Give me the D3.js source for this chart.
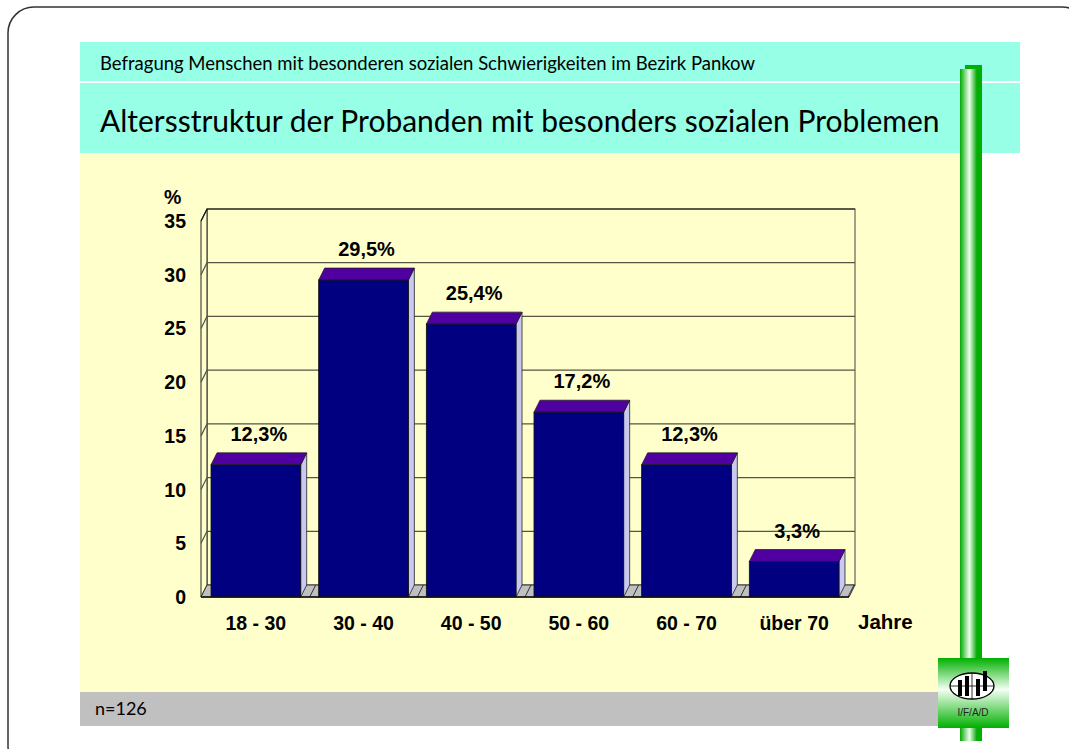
<!DOCTYPE html>
<html>
<head>
<meta charset="utf-8">
<script src="https://cdn.jsdelivr.net/npm/d3@7"></script>
<style>
  body { margin: 0; background: #fff; }
  svg { display: block; }
</style>
</head>
<body>
<div id="chart"></div>
<script>
// data
var categories = ['18 - 30', '30 - 40', '40 - 50', '50 - 60', '60 - 70', 'über 70'];
var values = [12.3, 29.5, 25.4, 17.2, 12.3, 3.3];
var valueLabels = ['12,3%', '29,5%', '25,4%', '17,2%', '12,3%', '3,3%'];
var yTicks = [0, 5, 10, 15, 20, 25, 30, 35];

var W = 1069, H = 749;
var svg = d3.select('#chart').append('svg')
  .attr('width', W)
  .attr('height', H);

var defs = svg.append('defs');
var cyl = defs.append('linearGradient').attr('id', 'cyl')
  .attr('x1', '0').attr('x2', '1').attr('y1', '0').attr('y2', '0');
cyl.append('stop').attr('offset', '0%').attr('stop-color', '#00a800');
cyl.append('stop').attr('offset', '55%').attr('stop-color', '#f0fff0');
cyl.append('stop').attr('offset', '100%').attr('stop-color', '#00a800');
var logoGrad = defs.append('linearGradient').attr('id', 'logoGrad')
  .attr('x1', '0').attr('x2', '0').attr('y1', '0').attr('y2', '1');
logoGrad.append('stop').attr('offset', '0%').attr('stop-color', '#00b000');
logoGrad.append('stop').attr('offset', '45%').attr('stop-color', '#f4fff4');
logoGrad.append('stop').attr('offset', '100%').attr('stop-color', '#00b000');

// outer rounded frame
svg.append('rect')
  .attr('x', 8).attr('y', 7)
  .attr('width', 1080).attr('height', 765)
  .attr('rx', 26).attr('ry', 26)
  .attr('fill', 'none')
  .attr('stroke', '#333')
  .attr('stroke-width', 1.5);

// slide bands
svg.append('rect').attr('x', 80).attr('y', 42).attr('width', 940).attr('height', 39).attr('fill', '#96ffe6');
svg.append('rect').attr('x', 80).attr('y', 83).attr('width', 940).attr('height', 70).attr('fill', '#96ffe6');
svg.append('rect').attr('x', 80).attr('y', 153).attr('width', 880).attr('height', 539).attr('fill', '#ffffcc');
svg.append('rect').attr('x', 80).attr('y', 692).attr('width', 880).attr('height', 34).attr('fill', '#c0c0c0');

svg.append('text')
  .attr('x', 100).attr('y', 70)
  .style('font-family', 'Lato, sans-serif')
  .style('font-size', '18.5px')
  .text('Befragung Menschen mit besonderen sozialen Schwierigkeiten im Bezirk Pankow');

svg.append('text')
  .attr('x', 100).attr('y', 132)
  .style('font-family', 'Lato, sans-serif')
  .style('font-size', '30px')
  .text('Altersstruktur der Probanden mit besonders sozialen Problemen');

svg.append('text')
  .attr('x', 95).attr('y', 715)
  .style('font-family', 'Lato, sans-serif')
  .style('font-size', '18px')
  .text('n=126');

// chart geometry
var dx = 6, dy = -12;
var x = d3.scaleBand()
  .domain(categories)
  .range([201, 849])
  .paddingInner(0.167)
  .paddingOuter(0.093);
var y = d3.scaleLinear().domain([0, 35]).range([597, 221]);

var g = svg.append('g');
var x0 = 201, x1 = 849;

// back wall + left wall
g.append('rect')
  .attr('x', x0 + dx).attr('y', y(35) + dy)
  .attr('width', x1 - x0).attr('height', y(0) - y(35))
  .attr('fill', '#ffffcc').attr('stroke', '#444').attr('stroke-width', 1);
g.append('path')
  .attr('d', 'M' + x0 + ',' + y(0) + 'L' + x0 + ',' + y(35) + 'L' + (x0 + dx) + ',' + (y(35) + dy) + 'L' + (x0 + dx) + ',' + (y(0) + dy) + 'Z')
  .attr('fill', '#ffffcc').attr('stroke', '#222').attr('stroke-width', 1);

// gridlines (back wall + left wall diagonal)
g.selectAll('.grid').data(yTicks.filter(function (t) { return t > 0; }))
  .enter().append('path')
  .attr('class', 'grid')
  .attr('d', function (t) {
    return 'M' + x0 + ',' + y(t) + 'L' + (x0 + dx) + ',' + (y(t) + dy) + 'L' + (x1 + dx) + ',' + (y(t) + dy);
  })
  .attr('fill', 'none')
  .attr('stroke', function (t) { return t === 35 ? '#111' : '#555544'; })
  .attr('stroke-width', 1.2);

// floor
g.append('path')
  .attr('d', 'M' + x0 + ',' + y(0) + 'L' + (x0 + dx) + ',' + (y(0) + dy) + 'L' + (x1 + dx) + ',' + (y(0) + dy) + 'L' + x1 + ',' + y(0) + 'Z')
  .attr('fill', '#c0c0c0').attr('stroke', '#333').attr('stroke-width', 1);
// floor slot separators
g.selectAll('.sep').data(categories)
  .enter().append('path')
  .attr('d', function (c) {
    var xx = x(c) + x.bandwidth() + (x.step() - x.bandwidth()) / 2;
    return 'M' + (xx) + ',' + y(0) + 'L' + (xx + dx) + ',' + (y(0) + dy);
  })
  .attr('stroke', '#333').attr('stroke-width', 1);

// bars
var bars = g.selectAll('.bar').data(values).enter().append('g').attr('class', 'bar');
bars.append('path')
  .attr('d', function (v, i) {
    var bx = x(categories[i]) + x.bandwidth(), top = y(v), bot = y(0);
    return 'M' + bx + ',' + bot + 'L' + bx + ',' + top + 'L' + (bx + dx) + ',' + (top + dy) + 'L' + (bx + dx) + ',' + (bot + dy) + 'Z';
  })
  .attr('fill', '#c8c8f0').attr('stroke', '#222').attr('stroke-width', 0.8);
bars.append('path')
  .attr('d', function (v, i) {
    var bx = x(categories[i]), bw = x.bandwidth(), top = y(v);
    return 'M' + bx + ',' + top + 'L' + (bx + dx) + ',' + (top + dy) + 'L' + (bx + bw + dx) + ',' + (top + dy) + 'L' + (bx + bw) + ',' + top + 'Z';
  })
  .attr('fill', '#5000a0').attr('stroke', '#222').attr('stroke-width', 0.8);
bars.append('rect')
  .attr('x', function (v, i) { return x(categories[i]); })
  .attr('y', function (v) { return y(v); })
  .attr('width', x.bandwidth())
  .attr('height', function (v) { return y(0) - y(v); })
  .attr('fill', '#000080').attr('stroke', '#111').attr('stroke-width', 0.8);

// front baseline
g.append('line')
  .attr('x1', x0).attr('x2', x1).attr('y1', y(0)).attr('y2', y(0))
  .attr('stroke', '#111').attr('stroke-width', 1.5);

var bold = function (sel, size) {
  return sel.style('font-family', '"Liberation Sans", Arial, sans-serif')
    .style('font-weight', 'bold')
    .style('font-size', size + 'px')
    .attr('fill', '#000');
};

// value labels
bold(g.selectAll('.val').data(values).enter().append('text'), 20)
  .attr('x', function (v, i) { return x(categories[i]) + x.bandwidth() / 2 + dx / 2; })
  .attr('y', function (v) { return y(v) + dy - 12; })
  .attr('text-anchor', 'middle')
  .text(function (v, i) { return valueLabels[i]; });

// y axis tick labels
bold(g.selectAll('.ytick').data(yTicks).enter().append('text'), 19.5)
  .attr('x', 186)
  .attr('y', function (t) { return y(t) + 7; })
  .attr('text-anchor', 'end')
  .text(function (t) { return t; });
bold(g.append('text'), 19.5).attr('x', 164).attr('y', 204).text('%');

// x axis category labels
bold(g.selectAll('.xtick').data(categories).enter().append('text'), 19.5)
  .attr('x', function (c) { return x(c) + x.bandwidth() / 2; })
  .attr('y', 630)
  .attr('text-anchor', 'middle')
  .text(function (c) { return c; });
bold(g.append('text'), 20.5).attr('x', 858).attr('y', 629).text('Jahre');

// green pole
svg.append('rect').attr('x', 965).attr('y', 65).attr('width', 17).attr('height', 676).attr('fill', '#00b000');
svg.append('rect').attr('x', 960).attr('y', 69).attr('width', 17).attr('height', 672).attr('fill', 'url(#cyl)');

// logo
var logo = svg.append('g');
logo.append('rect').attr('x', 938).attr('y', 658).attr('width', 71).attr('height', 70).attr('fill', 'url(#logoGrad)');
logo.append('ellipse').attr('cx', 972).attr('cy', 686).attr('rx', 22).attr('ry', 13)
  .attr('fill', '#fff').attr('stroke', '#000').attr('stroke-width', 1.3);
logo.append('line').attr('x1', 950).attr('x2', 994).attr('y1', 686).attr('y2', 686).attr('stroke', '#000').attr('stroke-width', 0.8);
logo.append('line').attr('x1', 972).attr('x2', 972).attr('y1', 673).attr('y2', 699).attr('stroke', '#000').attr('stroke-width', 0.8);
var logoBars = [[958, 680, 18], [965, 676, 22], [976, 679, 19], [983, 671, 22]];
logo.selectAll('.lb').data(logoBars).enter().append('rect')
  .attr('x', function (d) { return d[0]; })
  .attr('y', function (d) { return d[1]; })
  .attr('width', 4)
  .attr('height', function (d) { return d[2] - 2; })
  .attr('fill', '#000');
logo.append('text').attr('x', 973).attr('y', 716)
  .attr('text-anchor', 'middle')
  .style('font-family', '"Liberation Sans", Arial, sans-serif')
  .style('font-size', '10px')
  .attr('fill', '#222')
  .text('I/F/A/D');
</script>
</body>
</html>
